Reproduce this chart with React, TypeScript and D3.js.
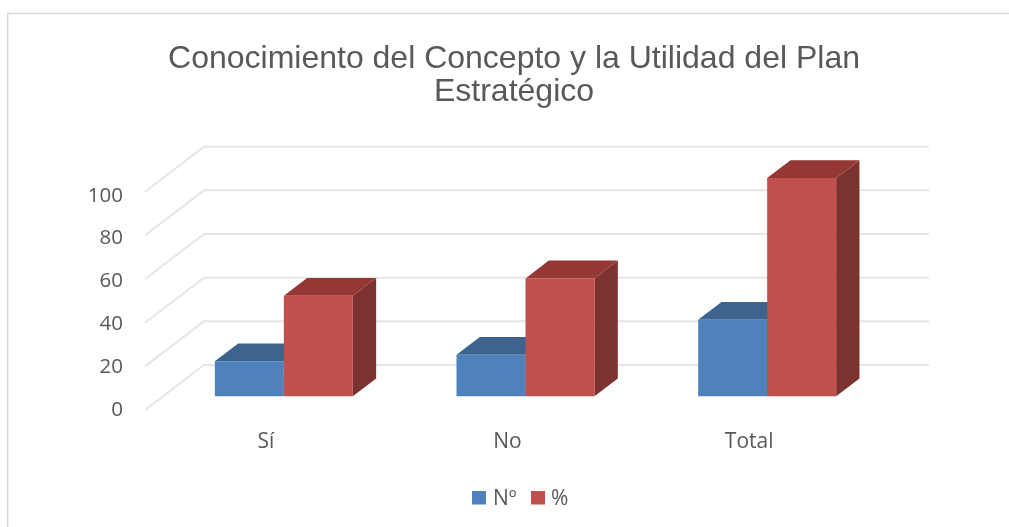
import React from "react";
import * as d3 from "d3";

const categories = ["Sí", "No", "Total"];
const seriesNames = ["Nº", "%"];
const countValues = [16, 19, 35];
const percentValues = [46, 54, 100];
const yTicks = [0, 20, 40, 60, 80, 100];
const titleLines = ["Conocimiento del Concepto y la Utilidad del Plan", "Estratégico"];
const frontColors = ["#4f81bd", "#c0504d"];
const topColors = ["#3c648f", "#953735"];
const sideColors = ["#335577", "#7b302e"];

const W = 1009, H = 527;
const DX = 59, DY = 45;
const Z0 = 0.305, Z1 = 0.7;
const y = d3.scaleLinear().domain([0, 100]).range([410, 191.7]);
const yLabel = d3.scaleLinear().domain([0, 100]).range([415.5, 201.5]);
const x0 = d3.scaleBand<string>().domain(categories).range([145, 870]);
const BAR_GROUP = 138;
const proj = (px: number, v: number, z: number): [number, number] => [px + z * DX, y(v) - z * DY];
const poly = (pts: [number, number][]) => pts.map((p) => p.join(",")).join(" ");

export default function App() {
  const font = "'Open Sans', 'Noto Sans', sans-serif";
  const values = [countValues, percentValues];
  return (
    <svg width={W} height={H} style={{ position: "absolute", left: 0, top: 0, background: "#fff" }}>
      <defs>
        <filter id="soft" x="-5%" y="-5%" width="110%" height="110%">
          <feGaussianBlur stdDeviation="0.5" />
        </filter>
      </defs>
      <g filter="url(#soft)">
        <path d={`M7.7,${H} V13.5 H${W}`} fill="none" stroke="#d9d9d9" strokeWidth={1.6} />
        {yTicks.map((t) => (
          <polyline
            key={t}
            points={poly([proj(145, t, 0), proj(145, t, 1), proj(870, t, 1)])}
            fill="none"
            stroke="#e6e6e6"
            strokeWidth={2}
          />
        ))}
        {categories.map((c, ci) => {
          const center = x0(c)! + x0.bandwidth() / 2;
          const x1 = d3.scaleBand<string>().domain(seriesNames).range([center - BAR_GROUP / 2, center + BAR_GROUP / 2]);
          return (
            <g key={c}>
              {seriesNames.map((s, si) => {
                const v = values[si][ci];
                const l = x1(s)!;
                const r = l + x1.bandwidth();
                return (
                  <g key={s}>
                    <polygon points={poly([proj(r, 0, Z0), proj(r, 0, Z1), proj(r, v, Z1), proj(r, v, Z0)])} fill={sideColors[si]} />
                    <polygon points={poly([proj(l, v, Z0), proj(r, v, Z0), proj(r, v, Z1), proj(l, v, Z1)])} fill={topColors[si]} />
                    <polygon points={poly([proj(l, 0, Z0), proj(r, 0, Z0), proj(r, v, Z0), proj(l, v, Z0)])} fill={frontColors[si]} />
                  </g>
                );
              })}
            </g>
          );
        })}
        {seriesNames.map((s, i) => (
          <rect key={s} x={[472, 531][i]} y={491} width={14} height={13.5} fill={frontColors[i]} />
        ))}
      </g>
      <g fill="#595959" style={{ filter: "blur(0.3px)" }}>
        {titleLines.map((t, i) => (
          <text key={t} x={514} y={68 + i * 33} textAnchor="middle" fontFamily="'Liberation Sans', Arial, sans-serif" fontSize={32}>
            {t}
          </text>
        ))}
        {yTicks.map((t) => (
          <text key={t} x={123} y={yLabel(t)} textAnchor="end" fontFamily={font} fontSize={20.5}>
            {t}
          </text>
        ))}
        {categories.map((c) => (
          <text key={c} x={x0(c)! + x0.bandwidth() / 2} y={448} textAnchor="middle" fontFamily={font} fontSize={21}>
            {c}
          </text>
        ))}
        {seriesNames.map((s, i) => (
          <text key={s} x={[493, 551][i]} y={505} fontFamily={font} fontSize={21}>
            {s}
          </text>
        ))}
      </g>
    </svg>
  );
}
